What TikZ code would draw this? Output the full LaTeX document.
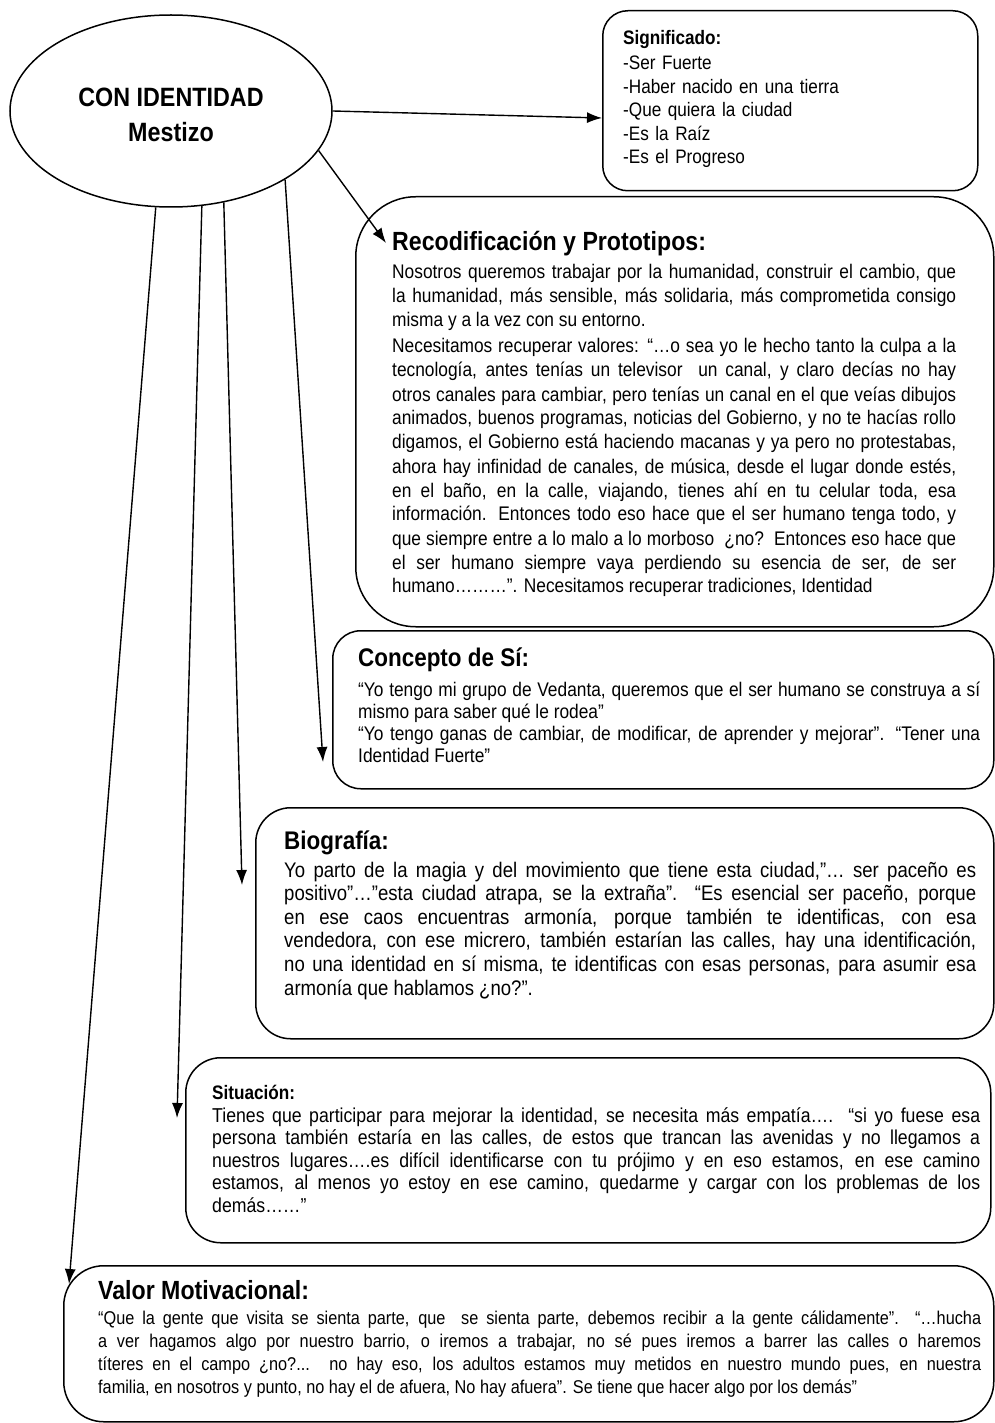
\documentclass[tikz,border=0pt]{standalone}
\usepackage{fontspec}
\setmainfont{Liberation Sans}[FakeStretch=0.88]
\usetikzlibrary{shapes.geometric, arrows.meta}
\tolerance=9999
\hbadness=10000

\newcommand{\titulo}[2]{{\fontsize{#1}{#1}\selectfont\bfseries #2\par}}

\begin{document}
\begin{tikzpicture}[x=1pt, y=-1pt,
	caja/.style={draw, line width=1.5pt, anchor=north west, inner sep=0pt},
	texto/.style={anchor=base west, inner sep=0pt, align=justify},
	flecha/.style={-{Latex[length=15pt, width=11pt]}, line width=1.4pt}]
				\useasboundingbox (0,0) rectangle (995,1423);
				
				%% Nodo central
				\node [draw, ellipse, line width=1.5pt, minimum width=322pt, minimum height=192pt,
				inner sep=0pt, align=center, font=\fontsize{26.5}{35}\selectfont\bfseries]
				(identidad) at (171,111) {\rule{0pt}{26pt}CON IDENTIDAD\\Mestizo};
				
				%% Cajas
				\node [caja, rounded corners=25pt, minimum width=375pt, minimum height=180pt] (significado) at (602,10) {};
				\node [caja, rounded corners=60pt, minimum width=638pt, minimum height=430pt] (recod) at (355,196) {};
				\node [caja, rounded corners=28pt, minimum width=661pt, minimum height=158pt] (concepto) at (332,630) {};
				\node [caja, rounded corners=35pt, minimum width=738pt, minimum height=231pt] (biografia) at (255,807) {};
				\node [caja, rounded corners=35pt, minimum width=805pt, minimum height=185pt] (situacion) at (185,1057) {};
				\node [caja, rounded corners=40pt, minimum width=930pt, minimum height=156pt] (valor) at (63,1265) {};
				
				%% Textos de las cajas
				\node [texto, text width=340pt, align=left, font=\fontsize{19.5}{23.5}\selectfont]
				(sigtxt) at (623,45) {\titulo{19.5}{Significado:}\vspace{1.5pt}
					-Ser Fuerte\\
					-Haber nacido en una tierra\\
					-Que quiera la ciudad\\
					-Es la Raíz\\
					-Es el Progreso};
				
				\node [texto, text width=564pt, font=\fontsize{19.7}{24}\selectfont]
				(rectxt) at (392,251) {\titulo{26.3}{Recodificación y Prototipos:}\vspace{4pt}
					Nosotros queremos trabajar por la humanidad, construir el cambio, que\linebreak
					la humanidad, más sensible, más solidaria, más comprometida consigo\linebreak
					misma y a la vez con su entorno.\par\vspace{2pt}
					Necesitamos recuperar valores: “…o sea yo le hecho tanto la culpa a la\linebreak
					tecnología, antes tenías un televisor\ \ un canal, y claro decías no hay\linebreak
					otros canales para cambiar, pero tenías un canal en el que veías dibujos\linebreak
					animados, buenos programas, noticias del Gobierno, y no te hacías rollo\linebreak
					digamos, el Gobierno está haciendo macanas y ya pero no protestabas,\linebreak
					ahora hay infinidad de canales, de música, desde el lugar donde estés,\linebreak
					en el baño, en la calle, viajando, tienes ahí en tu celular toda, esa\linebreak
					información. Entonces todo eso hace que el ser humano tenga todo, y\linebreak
					que siempre entre a lo malo a lo morboso\ \ ¿no?\ \ Entonces eso hace que\linebreak
					el ser humano siempre vaya perdiendo su esencia de ser, de ser\linebreak
					humano………”. Necesitamos recuperar tradiciones, Identidad};
				
				\node [texto, text width=622pt, font=\fontsize{19.7}{22.3}\selectfont]
				(contxt) at (358,666) {\titulo{25.5}{Concepto de Sí:}\vspace{7.7pt}
					“Yo tengo mi grupo de Vedanta, queremos que el ser humano se construya a sí\linebreak
					mismo para saber qué le rodea”\par
					“Yo tengo ganas de cambiar, de modificar, de aprender y mejorar”. “Tener una\linebreak
					Identidad Fuerte”};
				
				\node [texto, text width=692pt, font=\fontsize{21.1}{23.6}\selectfont]
				(biotxt) at (284,849) {\titulo{25.5}{Biografía:}\vspace{4.4pt}
					Yo parto de la magia y del movimiento que tiene esta ciudad,”… ser paceño es\linebreak
					positivo”…”esta ciudad atrapa, se la extraña”. “Es esencial ser paceño, porque\linebreak
					en ese caos encuentras armonía, porque también te identificas, con esa\linebreak
					vendedora, con ese micrero, también estarían las calles, hay una identificación,\linebreak
					no una identidad en sí misma, te identificas con esas personas, para asumir esa\linebreak
					armonía que hablamos ¿no?”.};
				
				\node [texto, text width=768pt, font=\fontsize{20.1}{22.5}\selectfont]
				(sittxt) at (212,1099) {\titulo{19.5}{Situación:}\vspace{0.5pt}
					Tienes que participar para mejorar la identidad, se necesita más empatía….\ \ “si yo fuese esa\linebreak
					persona también estaría en las calles, de estos que trancan las avenidas y no llegamos a\linebreak
					nuestros lugares….es difícil identificarse con tu prójimo y en eso estamos, en ese camino\linebreak
					estamos, al menos yo estoy en ese camino, quedarme y cargar con los problemas de los\linebreak
					demás……”};
				
				\node [texto, text width=883pt, font=\fontsize{18.5}{23.3}\selectfont]
				(valtxt) at (98,1299) {\titulo{26.3}{Valor Motivacional:}\vspace{1.7pt}
					“Que la gente que visita se sienta parte, que\ \ se sienta parte, debemos recibir a la gente cálidamente”. “…hucha\linebreak
					a ver hagamos algo por nuestro barrio, o iremos a trabajar, no sé pues iremos a barrer las calles o haremos\linebreak
					títeres en el campo ¿no?... no hay eso, los adultos estamos muy metidos en nuestro mundo pues, en nuestra\linebreak
					familia, en nosotros y punto, no hay el de afuera, No hay afuera”. Se tiene que hacer algo por los demás”};
				
				%% Puntas de las flechas
				\coordinate (pSig) at (602,118);
				\coordinate (pRec) at (386,243);
				\coordinate (pCon) at (323,762);
				\coordinate (pBio) at (242,885);
				\coordinate (pSit) at (177,1118);
				\coordinate (pVal) at (69,1284);
				
				%% Flechas
				\draw [flecha] (identidad.east) -- (pSig);
				\draw [flecha] (identidad.-15) -- (pRec);
				\draw [flecha] (identidad.-31) -- (pCon);
				\draw [flecha] (identidad.-60) -- (pBio);
				\draw [flecha] (identidad.-72) -- (pSit);
				\draw [flecha] (identidad.-99) -- (pVal);
			\end{tikzpicture}
\end{document}
